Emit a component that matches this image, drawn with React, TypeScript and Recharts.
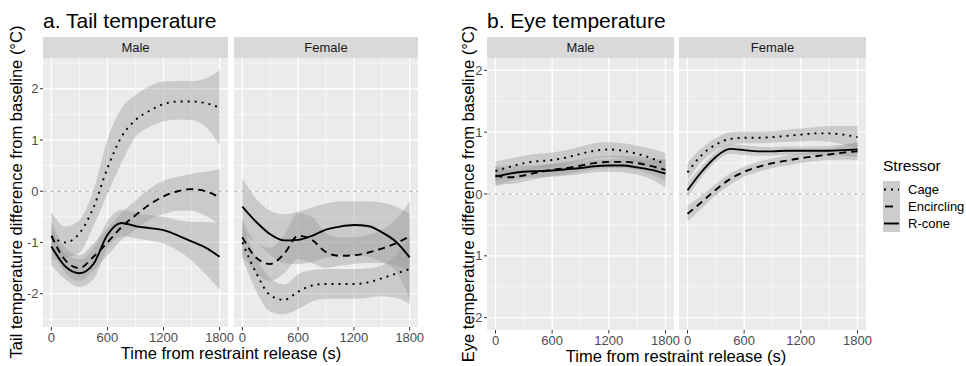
import React from "react";
import {
  ComposedChart,
  Area,
  Line,
  XAxis,
  YAxis,
  CartesianGrid,
  ReferenceLine,
} from "recharts";

// ==================== DATA ====================
const times = [0, 150, 300, 450, 600, 750, 900, 1050, 1200, 1350, 1500, 1650, 1800];
const xTicks = [0, 600, 1200, 1800];
const xMinor = [300, 900, 1500];
const stressors = ["Cage", "Encircling", "R-cone"];
const sexes = ["Male", "Female"];

const tailTicks = [-2, -1, 0, 1, 2];
const tailMinor = [-2.5, -1.5, -0.5, 0.5, 1.5, 2.5];
const eyeTicks = [-2, -1, 0, 1, 2];
const eyeMinor = [-1.5, -0.5, 0.5, 1.5];

// tail, male
const tailMaleCage = [-0.88, -1.0, -0.82, -0.32, 0.45, 1.06, 1.39, 1.57, 1.7, 1.75, 1.75, 1.72, 1.63];
const tailMaleCageLo = [-1.35, -1.3, -1.2, -0.68, -0.05, 0.55, 1.06, 1.26, 1.36, 1.4, 1.39, 1.26, 0.9];
const tailMaleCageHi = [-0.4, -0.69, -0.56, 0.02, 1.0, 1.62, 1.88, 2.05, 2.14, 2.15, 2.15, 2.2, 2.36];
const tailMaleEnc = [-0.87, -1.35, -1.5, -1.28, -1.0, -0.7, -0.47, -0.26, -0.1, 0.0, 0.04, 0.0, -0.12];
const tailMaleEncLo = [-1.15, -1.6, -1.75, -1.55, -1.25, -0.95, -0.75, -0.55, -0.45, -0.38, -0.38, -0.48, -0.65];
const tailMaleEncHi = [-0.6, -1.1, -1.25, -1.02, -0.72, -0.42, -0.18, 0.05, 0.2, 0.28, 0.34, 0.38, 0.43];
const tailMaleRcone = [-1.08, -1.47, -1.6, -1.42, -0.85, -0.62, -0.68, -0.72, -0.76, -0.86, -0.98, -1.1, -1.28];
const tailMaleRconeLo = [-1.45, -1.72, -1.87, -1.72, -1.12, -0.88, -0.92, -0.96, -1.02, -1.15, -1.35, -1.62, -1.92];
const tailMaleRconeHi = [-0.72, -1.22, -1.33, -1.12, -0.58, -0.36, -0.42, -0.47, -0.5, -0.56, -0.6, -0.6, -0.62];

// tail, female
const tailFemaleCage = [-1.0, -1.6, -2.03, -2.12, -1.96, -1.84, -1.81, -1.81, -1.81, -1.78, -1.7, -1.61, -1.52];
const tailFemaleCageLo = [-1.3, -1.95, -2.35, -2.4, -2.3, -2.15, -2.1, -2.1, -2.1, -2.08, -2.05, -2.08, -2.2];
const tailFemaleCageHi = [-0.65, -1.3, -1.7, -1.82, -1.62, -1.54, -1.52, -1.52, -1.52, -1.5, -1.45, -1.25, -0.9];
const tailFemaleEnc = [-0.9, -1.3, -1.42, -1.22, -0.87, -0.95, -1.19, -1.26, -1.25, -1.2, -1.12, -1.02, -0.88];
const tailFemaleEncLo = [-1.25, -1.6, -1.75, -1.6, -1.33, -1.4, -1.5, -1.45, -1.42, -1.4, -1.4, -1.45, -1.55];
const tailFemaleEncHi = [-0.55, -1.0, -1.1, -0.85, -0.43, -0.5, -0.82, -0.9, -0.9, -0.85, -0.75, -0.55, -0.2];
const tailFemaleRcone = [-0.3, -0.6, -0.84, -0.96, -0.95, -0.87, -0.75, -0.69, -0.66, -0.68, -0.8, -0.98, -1.29];
const tailFemaleRconeLo = [-0.85, -1.0, -1.25, -1.4, -1.42, -1.38, -1.3, -1.25, -1.25, -1.28, -1.38, -1.55, -2.1];
const tailFemaleRconeHi = [0.25, -0.15, -0.38, -0.45, -0.4, -0.32, -0.24, -0.2, -0.2, -0.2, -0.22, -0.3, -0.45];

// eye, male
const eyeMaleCage = [0.37, 0.44, 0.5, 0.53, 0.55, 0.59, 0.65, 0.7, 0.72, 0.7, 0.65, 0.58, 0.48];
const eyeMaleCageLo = [0.2, 0.31, 0.38, 0.41, 0.43, 0.47, 0.53, 0.58, 0.6, 0.58, 0.52, 0.43, 0.3];
const eyeMaleCageHi = [0.53, 0.57, 0.62, 0.65, 0.67, 0.71, 0.77, 0.82, 0.84, 0.82, 0.78, 0.73, 0.66];
const eyeMaleEnc = [0.3, 0.27, 0.3, 0.35, 0.39, 0.42, 0.46, 0.5, 0.52, 0.52, 0.5, 0.45, 0.39];
const eyeMaleEncLo = [0.15, 0.16, 0.2, 0.25, 0.29, 0.32, 0.36, 0.4, 0.42, 0.42, 0.39, 0.32, 0.22];
const eyeMaleEncHi = [0.45, 0.38, 0.4, 0.45, 0.49, 0.52, 0.56, 0.6, 0.62, 0.62, 0.61, 0.58, 0.56];
const eyeMaleRcone = [0.28, 0.33, 0.36, 0.37, 0.38, 0.4, 0.42, 0.45, 0.46, 0.46, 0.43, 0.39, 0.33];
const eyeMaleRconeLo = [0.12, 0.21, 0.26, 0.27, 0.28, 0.3, 0.32, 0.35, 0.36, 0.35, 0.31, 0.24, 0.1];
const eyeMaleRconeHi = [0.44, 0.45, 0.46, 0.47, 0.48, 0.5, 0.52, 0.55, 0.56, 0.57, 0.55, 0.54, 0.56];

// eye, female
const eyeFemaleCage = [0.35, 0.63, 0.8, 0.89, 0.91, 0.91, 0.92, 0.94, 0.96, 0.98, 0.98, 0.96, 0.92];
const eyeFemaleCageLo = [0.22, 0.52, 0.7, 0.8, 0.82, 0.82, 0.83, 0.84, 0.85, 0.86, 0.84, 0.8, 0.75];
const eyeFemaleCageHi = [0.5, 0.74, 0.9, 1.0, 1.01, 1.01, 1.02, 1.04, 1.06, 1.08, 1.1, 1.1, 1.1];
const eyeFemaleEnc = [-0.32, -0.13, 0.07, 0.24, 0.36, 0.44, 0.5, 0.54, 0.58, 0.61, 0.64, 0.67, 0.69];
const eyeFemaleEncLo = [-0.45, -0.23, -0.02, 0.15, 0.28, 0.36, 0.42, 0.46, 0.5, 0.53, 0.55, 0.56, 0.55];
const eyeFemaleEncHi = [-0.19, -0.03, 0.16, 0.33, 0.44, 0.52, 0.58, 0.62, 0.66, 0.69, 0.73, 0.78, 0.83];
const eyeFemaleRcone = [0.06, 0.36, 0.6, 0.73, 0.71, 0.69, 0.69, 0.7, 0.7, 0.7, 0.7, 0.71, 0.72];
const eyeFemaleRconeLo = [-0.06, 0.27, 0.52, 0.65, 0.63, 0.62, 0.62, 0.63, 0.63, 0.63, 0.62, 0.62, 0.6];
const eyeFemaleRconeHi = [0.18, 0.45, 0.68, 0.81, 0.79, 0.77, 0.76, 0.77, 0.77, 0.77, 0.78, 0.8, 0.84];

// ==================== STYLE ====================
const FONT = "'Liberation Sans', Arial, sans-serif";
const PANEL_BG = "#EBEBEB";
const STRIP_BG = "#D9D9D9";
const BAND_FILL = "#999999";
const dashFor: Record<string, string | undefined> = {
  Cage: "2 5",
  Encircling: "7 5",
  "R-cone": undefined,
};

function buildRows(series: number[][][]) {
  // series: [ [mean, lo, hi] per stressor ]
  return times.map((t, i) => {
    const row: any = { t };
    series.forEach(([mean, lo, hi], s) => {
      row["m" + s] = mean[i];
      row["b" + s] = [lo[i], hi[i]];
    });
    return row;
  });
}

const tailMaleRows = buildRows([
  [tailMaleCage, tailMaleCageLo, tailMaleCageHi],
  [tailMaleEnc, tailMaleEncLo, tailMaleEncHi],
  [tailMaleRcone, tailMaleRconeLo, tailMaleRconeHi],
]);
const tailFemaleRows = buildRows([
  [tailFemaleCage, tailFemaleCageLo, tailFemaleCageHi],
  [tailFemaleEnc, tailFemaleEncLo, tailFemaleEncHi],
  [tailFemaleRcone, tailFemaleRconeLo, tailFemaleRconeHi],
]);
const eyeMaleRows = buildRows([
  [eyeMaleCage, eyeMaleCageLo, eyeMaleCageHi],
  [eyeMaleEnc, eyeMaleEncLo, eyeMaleEncHi],
  [eyeMaleRcone, eyeMaleRconeLo, eyeMaleRconeHi],
]);
const eyeFemaleRows = buildRows([
  [eyeFemaleCage, eyeFemaleCageLo, eyeFemaleCageHi],
  [eyeFemaleEnc, eyeFemaleEncLo, eyeFemaleEncHi],
  [eyeFemaleRcone, eyeFemaleRconeLo, eyeFemaleRconeHi],
]);

// ==================== FACET ====================
const RIGHT_PAD = 18;

function Facet({
  rows,
  left,
  top,
  plotWidth,
  plotHeight,
  yDomain,
  yTicks,
  yMinor,
  showY,
}: {
  rows: any[];
  left: number;
  top: number;
  plotWidth: number;
  plotHeight: number;
  yDomain: [number, number];
  yTicks: number[];
  yMinor: number[];
  showY: boolean;
}) {
  const yAxisWidth = showY ? 40 : 0;
  const tickStyle = { fontSize: 13, fill: "#4D4D4D" };
  return (
    <div style={{ position: "absolute", left: left - yAxisWidth, top }}>
      <ComposedChart
        width={plotWidth + yAxisWidth + RIGHT_PAD}
        height={plotHeight + 24}
        data={rows}
        margin={{ top: 0, right: RIGHT_PAD, bottom: 0, left: 0 }}
      >
        <CartesianGrid
          fill={PANEL_BG}
          fillOpacity={1}
          stroke="#FFFFFF"
          strokeWidth={0.6}
          horizontalValues={yMinor}
          verticalValues={xMinor}
        />
        <CartesianGrid
          fill="none"
          stroke="#FFFFFF"
          strokeWidth={1.3}
          horizontalValues={yTicks}
          verticalValues={xTicks}
        />
        <XAxis
          dataKey="t"
          type="number"
          domain={[-90, 1890]}
          ticks={xTicks}
          allowDataOverflow
          axisLine={false}
          tickLine={{ stroke: "#333333" }}
          tickSize={3.5}
          tickMargin={2}
          height={24}
          tick={tickStyle}
          interval={0}
        />
        <YAxis
          type="number"
          domain={yDomain}
          ticks={yTicks}
          allowDataOverflow
          hide={!showY}
          width={yAxisWidth}
          axisLine={false}
          tickLine={{ stroke: "#333333" }}
          tickSize={3}
          tickMargin={1.5}
          tick={tickStyle}
          interval={0}
        />
        <ReferenceLine y={0} stroke="#B3B3B3" strokeDasharray="4 3" strokeWidth={1} />
        {stressors.map((name, s) => (
          <Area
            key={"band" + name}
            type="monotone"
            dataKey={"b" + s}
            stroke="none"
            fill={BAND_FILL}
            fillOpacity={0.4}
            dot={false}
            activeDot={false}
            isAnimationActive={false}
          />
        ))}
        {stressors.map((name, s) => (
          <Line
            key={"line" + name}
            type="monotone"
            dataKey={"m" + s}
            stroke="#000000"
            strokeWidth={1.9}
            strokeDasharray={dashFor[name]}
            dot={false}
            activeDot={false}
            isAnimationActive={false}
          />
        ))}
      </ComposedChart>
    </div>
  );
}

// ==================== APP ====================
export default function App() {
  const tailDomain: [number, number] = [-2.65, 2.6];
  const eyeDomain: [number, number] = [-2.2, 2.2];
  const strips = [
    { x: 43, w: 185, label: sexes[0] },
    { x: 234, w: 184, label: sexes[1] },
    { x: 487, w: 187, label: sexes[0] },
    { x: 679, w: 187, label: sexes[1] },
  ];
  const legendY = [181, 198, 215];

  return (
    <div
      style={{
        position: "absolute",
        left: 0,
        top: 0,
        width: 966,
        height: 366,
        background: "#FFFFFF",
        fontFamily: FONT,
        overflow: "hidden",
      }}
    >
      <svg
        width={966}
        height={366}
        style={{ position: "absolute", left: 0, top: 0, fontFamily: FONT }}
      >
        <text x={43} y={28} fontSize={21} fill="#000">
          a. Tail temperature
        </text>
        <text x={487} y={28} fontSize={21} fill="#000">
          b. Eye temperature
        </text>
        {strips.map((s, i) => (
          <g key={i}>
            <rect x={s.x} y={37} width={s.w} height={21} fill={STRIP_BG} />
            <text x={s.x + s.w / 2} y={52} fontSize={13} fill="#1A1A1A" textAnchor="middle">
              {s.label}
            </text>
          </g>
        ))}
        <text
          transform="translate(22,192) rotate(-90)"
          fontSize={16.5}
          fill="#000"
          textAnchor="middle"
        >
          Tail temperature difference from baseline (°C)
        </text>
        <text
          transform="translate(474,194) rotate(-90)"
          fontSize={16.5}
          fill="#000"
          textAnchor="middle"
        >
          Eye temperature difference from baseline (°C)
        </text>
        <text x={231} y={359} fontSize={16.5} fill="#000" textAnchor="middle">
          Time from restraint release (s)
        </text>
        <text x={676} y={362} fontSize={16.5} fill="#000" textAnchor="middle">
          Time from restraint release (s)
        </text>
        {/* legend */}
        <text x={883} y={171} fontSize={15.5} fill="#000">
          Stressor
        </text>
        {stressors.map((name, i) => (
          <g key={name}>
            <rect x={883} y={legendY[i]} width={17} height={17} fill="#CDCDCD" />
            <line
              x1={name === "Encircling" ? 885 : 884}
              x2={name === "Encircling" ? 893 : 899}
              y1={legendY[i] + 8.5}
              y2={legendY[i] + 8.5}
              stroke="#000"
              strokeWidth={1.9}
              strokeDasharray={name === "Cage" ? "2 5" : undefined}
            />
            <text x={908} y={legendY[i] + 13} fontSize={13} fill="#000">
              {name}
            </text>
          </g>
        ))}
      </svg>
      <Facet
        rows={tailMaleRows}
        left={43}
        top={58}
        plotWidth={185}
        plotHeight={269}
        yDomain={tailDomain}
        yTicks={tailTicks}
        yMinor={tailMinor}
        showY
      />
      <Facet
        rows={tailFemaleRows}
        left={234}
        top={58}
        plotWidth={184}
        plotHeight={269}
        yDomain={tailDomain}
        yTicks={tailTicks}
        yMinor={tailMinor}
        showY={false}
      />
      <Facet
        rows={eyeMaleRows}
        left={487}
        top={58}
        plotWidth={187}
        plotHeight={272}
        yDomain={eyeDomain}
        yTicks={eyeTicks}
        yMinor={eyeMinor}
        showY
      />
      <Facet
        rows={eyeFemaleRows}
        left={679}
        top={58}
        plotWidth={187}
        plotHeight={272}
        yDomain={eyeDomain}
        yTicks={eyeTicks}
        yMinor={eyeMinor}
        showY={false}
      />
    </div>
  );
}
